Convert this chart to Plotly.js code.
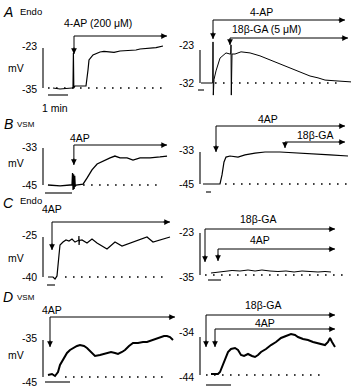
<!DOCTYPE html>
<html><head><meta charset="utf-8">
<script src="https://cdn.plot.ly/plotly-3.0.1.min.js"></script>
<style>html,body{margin:0;padding:0;background:#fff}#chart{width:356px;height:391px}</style>
</head><body><div id="chart"></div>
<script>
// ================= DATA (time in min, membrane potential in mV) =================
const tA1=[0.25,0.6,1.2,1.25,1.27,1.29,1.35,1.9,2.0,2.05,2.25,2.6,2.8,3.1,3.3,3.6,3.9,4.1,4.4,4.6,5.1,5.4,5.75];
const vA1=[-35,-35.3,-35,-35,-24.5,-35,-34.4,-34.4,-29.6,-26.6,-25.1,-24.2,-24.0,-24.2,-24.3,-23.9,-23.8,-23.6,-23.6,-23.3,-23.0,-22.9,-22.4];
const tA2=[0.5,2.33,2.45,2.5,2.55,2.67,3,3.67,4.67,5.33,5.45,5.5,5.55,5.67,6.17,7.17,8.67,10.33,12,13.67,15.33,17,18.67,20,21.17,22.83,24.5,25.5];
const vA2=[-32,-32,-32,-20.8,-35.3,-31,-28.7,-25.2,-23.8,-24.1,-24.1,-21.6,-35.3,-24.1,-24.1,-23.5,-23.8,-24.6,-25.7,-26.8,-27.9,-29,-30.1,-30.6,-31.2,-31.4,-31.7,-31.7];
const tB1=[0.11,0.56,0.93,1.0,1.02,1.04,1.06,1.08,1.10,1.12,1.15,1.41,1.56,1.74,1.93,2.22,2.41,2.59,2.78,3.04,3.26,3.52,3.89,4.26,4.52];
const vB1=[-45,-45.3,-45,-45,-41.1,-46.6,-41.5,-46.3,-42,-45.5,-45,-44.7,-42.7,-40.1,-38.2,-36.9,-36.2,-35.6,-36.2,-36.2,-36.9,-36.2,-36.2,-35.9,-35.6];
const tB2=[-0.6,2.8,3.2,3.6,4,4.8,6.4,7.8,9.8,11.8,14.8,15.8,16.4,18.8,21.8,24.8,28.4];
const vB2=[-45,-45,-41.6,-36.75,-34.9,-34.5,-34.9,-34.1,-33.4,-33,-33,-33.1,-33,-33.4,-33.75,-34.1,-34.5];
const tC1=[0.125,0.75,1,1.25,1.5,1.625,2,2.375,2.75,3.125,3.5,3.875,3.97,3.99,4.01,4.05,4.375,5,5.625,6.25,7.5,8.5,9.375,10.75,11.625,12.5,13.25,14.125,15.375];
const vC1=[-40,-40,-40.75,-39.6,-31.75,-28,-26.9,-26.1,-26.5,-25.75,-26.9,-26.1,-26.2,-24.6,-28,-26.3,-26.1,-27.25,-25.75,-27.25,-29.5,-26.9,-28.4,-26.9,-26.1,-25,-26.9,-26.1,-25];
const tC2=[0.23,0.77,1.31,1.85,2.46,3.08,3.62,4.15,4.77,5.38,6,6.62,7.23,7.85,8.46,9,9.46];
const vC2=[-34.43,-34.14,-33.86,-33.71,-33.86,-33.57,-33.86,-33.57,-33.86,-34.0,-33.86,-34.14,-33.86,-34.0,-34.14,-34.0,-34.14];
const tD1=[0.12,0.28,0.4,0.52,0.6,0.76,0.88,1.0,1.12,1.28,1.4,1.56,1.68,1.84,2.0,2.2,2.36,2.48,2.64,2.8,2.92,3.08,3.2,3.36,3.52,3.72,3.92,4.08,4.2,4.4,4.6,4.76,4.88,5.0,5.12];
const vD1=[-44.46,-44.19,-44.73,-43.65,-41.76,-39.86,-38.51,-37.7,-37.16,-36.62,-36.35,-36.62,-37.16,-38.24,-39.32,-39.05,-38.78,-38.51,-38.24,-38.51,-38.78,-38.24,-37.7,-36.62,-35.81,-35.81,-35.54,-35.54,-35.27,-34.73,-34.19,-33.92,-33.92,-34.19,-35.0];
const tD2=[0.2,0.48,0.56,0.68,0.8,0.88,1.0,1.16,1.28,1.4,1.52,1.68,1.84,1.96,2.08,2.2,2.4,2.6,2.8,3.0,3.2,3.4,3.56,3.68,3.88,4.08,4.28,4.48,4.64,4.76,4.88,4.96,5.04,5.16];
const vD2=[-43.74,-43.74,-43.21,-41.37,-39.53,-37.95,-37.16,-36.89,-37.42,-38.74,-39.0,-38.47,-39.0,-39.26,-38.74,-37.95,-37.16,-36.11,-35.32,-34.26,-33.74,-33.21,-33.47,-34.0,-34.53,-34.79,-35.32,-35.58,-35.84,-36.11,-35.32,-34.26,-35.32,-36.63];

// scale-bar values (mV): [top, bottom]
const scaleA1=[-23,-35], scaleA2=[-23,-32], scaleB1=[-33,-45], scaleB2=[-33,-45];
const scaleC1=[-25,-40], scaleC2=[-23,-35], scaleD1=[-35,-45], scaleD2=[-34,-44];
// dotted resting baseline [start, end] (min)
const baseA1=[0,5.75], baseA2=[2.83,23.8], baseB1=[1.41,4.37], baseB2=[3.8,29];
const baseC1=[2.25,15], baseC2=[-0.23,10.77], baseD1=[0.8,4.88], baseD2=[0,4.76];
// drug applications: names, onset, end of bar (min)
const drugA1=['4-AP (200 \u03bcM)'], onA1=[1.3], offA1=[5.95];
const drugA2=['4-AP','18\u03b2-GA (5 \u03bcM)'], onA2=[2.5,5.33], offA2=[24.5,25];
const drugB1=['4AP'], onB1=[1.07], offB1=[4.52];
const drugB2=['4AP','18\u03b2-GA'], onB2=[2,15.8], offB2=[27.8,27.8];
const drugC1=['4AP'], onC1=[0.625], offC1=[15.375];
const drugC2=['18\u03b2-GA','4AP'], onC2=[-0.23,0.77], offC2=[9.77,9.77];
const drugD1=['4AP'], onD1=[0.2], offD1=[5.2];
const drugD2=['18\u03b2-GA','4AP'], onD2=[0,0.36], offD2=[5.16,5.16];
const panelLetters=['A','B','C','D'], cellTypes=['Endo','VSM','Endo','VSM'];
const timeBar=[0,1], timeBarLabel='1 min', unitLabel='mV';

// ================= LAYOUT GEOMETRY (pixels) =================
const W=356,H=391;
const panels=[
 {t:tA1,v:vA1,sc:scaleA1,base:baseA1,drug:drugA1,on:onA1,off:offA1,x0:48,ppx:20,yTop:48,yBot:88,left:true,mvY:68,labY:[46,89],arrows:[{cy:36,ty:54,lx:98,ly:23}],tbarY:95,lw:1.2},
 {t:tA2,v:vA2,sc:scaleA2,base:baseA2,drug:drugA2,on:onA2,off:offA2,x0:198,ppx:6,yTop:50,yBot:83,left:false,labY:[45,83],arrows:[{cy:20,ty:39,lx:261,ly:12},{cy:38,ty:45,lx:266,ly:29}],tbarY:90,lw:1},
 {t:tB1,v:vB1,sc:scaleB1,base:baseB1,drug:drugB1,on:onB1,off:offB1,x0:45,ppx:27,yTop:148,yBot:185,left:true,mvY:163,labY:[147,185],arrows:[{cy:145,ty:165,lx:80,ly:138}],tbarY:193,lw:1.3},
 {t:tB2,v:vB2,sc:scaleB2,base:baseB2,drug:drugB2,on:onB2,off:offB2,x0:206,ppx:5,yTop:152,yBot:184,left:false,labY:[150,184],arrows:[{cy:126,ty:152,lx:268,ly:119},{cy:142,ty:148,lx:315,ly:135}],tbarY:192,lw:1.2},
 {t:tC1,v:vC1,sc:scaleC1,base:baseC1,drug:drugC1,on:onC1,off:offC1,x0:47,ppx:8,yTop:237,yBot:277,left:true,mvY:258,labY:[235,277],arrows:[{cy:222,ty:250,lx:52,ly:209}],tbarY:285,lw:1.2},
 {t:tC2,v:vC2,sc:scaleC2,base:baseC2,drug:drugC2,on:onC2,off:offC2,x0:208,ppx:13,yTop:233,yBot:275,left:false,labY:[232,277],arrows:[{cy:229,ty:262,lx:258,ly:219},{cy:249,ty:261,lx:260,ly:240}],tbarY:280,lw:1},
 {t:tD1,v:vD1,sc:scaleD1,base:baseD1,drug:drugD1,on:onD1,off:offD1,x0:45,ppx:25,yTop:340,yBot:377,left:true,mvY:355,labY:[338,382],arrows:[{cy:317,ty:347,lx:52,ly:310}],tbarY:382,lw:2},
 {t:tD2,v:vD2,sc:scaleD2,base:baseD2,drug:drugD2,on:onD2,off:offD2,x0:206,ppx:25,yTop:337,yBot:375,left:false,labY:[332,377],arrows:[{cy:315,ty:347,lx:263,ly:305},{cy:329,ty:347,lx:265,ly:323}],tbarY:385,lw:2}
];
const letterPos=[{y:12},{y:124},{y:203},{y:297}];
const cellPos=[{y:11},{y:124},{y:200},{y:297}];
const FONT='Liberation Sans, Arial, Helvetica, sans-serif';

const traces=[], annotations=[], layout={
  width:W,height:H,margin:{l:0,r:0,t:0,b:0},paper_bgcolor:'#fff',plot_bgcolor:'rgba(0,0,0,0)',
  showlegend:false,font:{family:FONT,color:'#000',size:10}
};
const px=(x)=>x/W, py=(y)=>1-y/H;
function txt(s,x,y,o){annotations.push(Object.assign({text:s,x:px(x),y:py(y),xref:'paper',yref:'paper',showarrow:false,xanchor:'center',yanchor:'middle',font:{family:FONT,size:10,color:'#000'}},o||{}));}

panels.forEach((g,i)=>{
  const n=i===0?'':String(i+1);
  const xa='x'+n, ya='y'+n;
  const vT=g.sc[0], vB=g.sc[1];
  const toV=(p)=>vT-(p-g.yTop)*(vT-vB)/(g.yBot-g.yTop);
  const toT=(p)=>(p-g.x0)/g.ppx;
  layout['xaxis'+n]={domain:[0,1],range:[toT(0),toT(W)],visible:false,fixedrange:true,anchor:ya};
  layout['yaxis'+n]={domain:[0,1],range:[toV(H),toV(0)],visible:false,fixedrange:true,anchor:xa};
  const L=(x,y,w,extra)=>traces.push(Object.assign({type:'scatter',mode:'lines',x:x,y:y,xaxis:xa,yaxis:ya,hoverinfo:'skip',line:{color:'#000',width:w}},extra||{}));
  // dotted baseline
  L(g.base,[vB,vB],1.6,{line:{color:'#000',width:1.6,dash:'1.6px,6.4px'}});
  // voltage trace
  L(g.t,g.v,g.lw,{line:{color:'#000',width:g.lw,shape:'linear'}});
  // vertical mV scale bar
  const bx=toT(g.left?43:200);
  L([bx,bx],[vT,vB],1.1);
  // horizontal time scale bar
  const ty=toV(g.tbarY);
  L(timeBar,[ty,ty],1.1);
  // drug application arrows
  g.arrows.forEach((a,k)=>{
    const on=g.on[k], off=g.off[k], vc=toV(a.cy), vt=toV(a.ty);
    L([on,on,off],[vt,vc,vc],1);
    const len=Math.min(8,a.ty-a.cy);
    annotations.push({x:on,y:vt,xref:xa,yref:ya,ax:0,ay:-len,text:'',showarrow:true,arrowhead:2,arrowsize:1.15,arrowwidth:1,arrowcolor:'#000',standoff:0});
    annotations.push({x:off,y:vc,xref:xa,yref:ya,ax:-8,ay:0,text:'',showarrow:true,arrowhead:2,arrowsize:1.15,arrowwidth:1,arrowcolor:'#000',standoff:0});
    txt(g.drug[k],a.lx,a.ly,{font:{family:FONT,size:10.5,color:'#000'}});
  });
  // scale labels
  const rx=g.left?39:196;
  txt(String(vT),rx,g.labY[0],{xanchor:'right',font:{family:FONT,size:10.5,color:'#000'}});
  txt(String(vB),rx,g.labY[1],{xanchor:'right',font:{family:FONT,size:10.5,color:'#000'}});
  if(g.left){ txt(unitLabel,16,g.mvY,{font:{family:FONT,size:10.5,color:'#000'}}); }
});
// panel letters and cell type labels
panelLetters.forEach((s,k)=>{
  txt('<i>'+s+'</i>',8,letterPos[k].y,{font:{family:FONT,size:14,color:'#000'}});
  txt(cellTypes[k],cellTypes[k]==='VSM'?26:31,cellPos[k].y,{font:{family:FONT,size:cellTypes[k]==='VSM'?8:9.5,color:'#000'}});
});
txt(timeBarLabel,55,108,{font:{family:FONT,size:10.5,color:'#000'}});
layout.annotations=annotations;
Plotly.newPlot('chart',traces,layout,{staticPlot:true,displayModeBar:false});
</script></body></html>
